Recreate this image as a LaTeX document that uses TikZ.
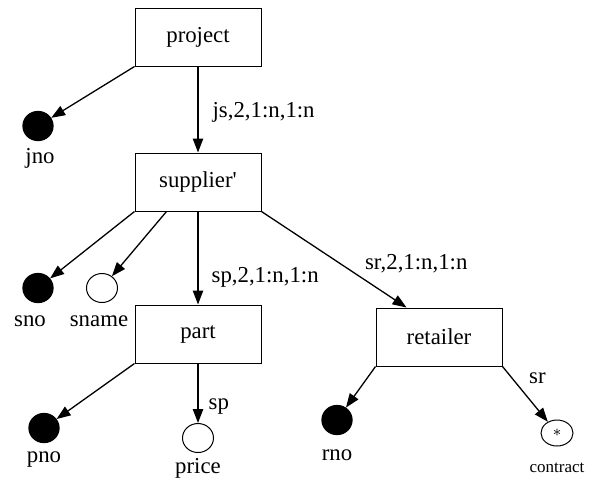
\documentclass[tikz,border=0pt]{standalone}
\usepackage{fontspec}
\setmainfont{Liberation Serif}[Ligatures=TeXOff]
\usetikzlibrary{arrows.meta,shapes.geometric}
\tikzset{
	treenode/.style = {align=center, inner sep=0pt, text centered,
		font=\fontsize{11.4}{13}\selectfont},
	ent_box/.style = {treenode, rectangle, draw=black, line width=0.5pt,
		minimum width=63pt, minimum height=29pt},
	key_at/.style = {treenode, ellipse, draw=black, fill=black,
		minimum width=15pt, minimum height=14.5pt},
	plain_at/.style = {treenode, ellipse, draw=black, line width=0.5pt,
		minimum width=15.5pt, minimum height=14.5pt},
	at_lbl/.style = {treenode},
	edge_lbl/.style = {treenode, anchor=west}
}
\begin{document}
\begin{tikzpicture}[x=0.5pt, y=-0.5pt, ->, >={Triangle[length=7pt,width=5.2pt]}, line width=0.65pt]
\useasboundingbox (0,0) rectangle (592,483);
% entities
\node [ent_box] (proj) at (198,37) {project};
\node [ent_box] (sup) at (198,182) {supplier'};
\node [ent_box] (part) at (198,334) {part};
\node [ent_box] (ret) at (439,337) {retailer};
% attributes
\node [key_at] (jno) at (38,126) {};
\node [at_lbl] (jnol) at (40,158) {jno};
\node [key_at] (sno) at (38,288) {};
\node [at_lbl] (snol) at (30,321) {sno};
\node [plain_at] (sname) at (102,288) {};
\node [at_lbl] (snamel) at (99,321) {sname};
\node [key_at] (pno) at (44,428) {};
\node [at_lbl] (pnol) at (44,460) {pno};
\node [plain_at] (price) at (198,438) {};
\node [at_lbl] (pricel) at (198,468) {price};
\node [key_at] (rno) at (337,420) {};
\node [at_lbl] (rnol) at (337,455) {rno};
\node [plain_at, minimum width=16pt, minimum height=13pt] (contr) at (557,433) {\footnotesize$\ast$};
\node [at_lbl, font=\fontsize{8.5}{10}\selectfont] (contrl) at (557,468) {contract};
% connectors
\draw (proj.south west) -- (jno);
\draw (proj.south) -- node[edge_lbl, xshift=7pt, yshift=-1.5pt] {js,2,1:n,1:n} (sup.north);
\draw (sup.south west) -- (sno);
\draw ([xshift=16pt]sup.south west) -- (sname);
\draw (sup.south) -- node[edge_lbl, pos=0.71, xshift=6.5pt] {sp,2,1:n,1:n} (part.north);
\draw (sup.south east) -- node[edge_lbl, pos=0.71, yshift=8pt] {sr,2,1:n,1:n} ([xshift=15.5pt]ret.north west);
\draw (part.south west) -- (pno);
\draw (part.south) -- node[edge_lbl, pos=0.72, xshift=5pt] {sp} (price);
\draw (ret.south west) -- (rno);
\draw (ret.south east) -- node[edge_lbl, pos=0.22, xshift=8pt] {sr} (contr);
\end{tikzpicture}
\end{document}
